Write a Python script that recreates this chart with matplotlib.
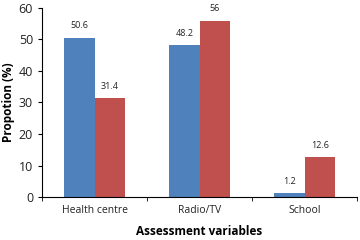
import numpy as np
import matplotlib.pyplot as plt

categories = ['Health centre', 'Radio/TV', 'School']
series_a = [50.6, 48.2, 1.2]
series_b = [31.4, 56, 12.6]

plt.rcParams['font.family'] = ['Open Sans', 'DejaVu Sans']

fig = plt.figure(figsize=(3.6, 2.4), dpi=100)
ax = fig.add_axes([0.117, 0.179, 0.875, 0.788])

x = np.arange(len(categories))
w = 0.29
bars_a = ax.bar(x - w / 2, series_a, w, color='#4F81BD')
bars_b = ax.bar(x + w / 2, series_b, w, color='#C0504D')

for bars, vals in ((bars_a, series_a), (bars_b, series_b)):
    for b, v in zip(bars, vals):
        ax.text(b.get_x() + b.get_width() / 2, v + 2.3, f'{v:g}',
                ha='center', va='bottom', fontsize=6.5, color='#222222')

ax.set_xlim(-0.5, 2.5)
ax.set_ylim(0, 60)
ax.set_yticks(range(0, 61, 10))
ax.set_xticks(x)
ax.set_xticklabels(categories)
ax.set_xticks([-0.5, 0.5, 1.5, 2.5], minor=True)
ax.tick_params(axis='x', which='major', length=0, labelsize=7.5, pad=6, labelcolor='#222222')
ax.tick_params(axis='x', which='minor', length=3, direction='out')
ax.tick_params(axis='y', labelsize=9, length=3, direction='out', labelcolor='#222222')

ax.spines['top'].set_visible(False)
ax.spines['right'].set_visible(False)

ax.set_xlabel('Assessment variables', fontsize=8.5, fontweight='bold', labelpad=6)
ax.set_ylabel('Propotion (%)', fontsize=8.5, fontweight='bold', labelpad=3)

fig.savefig('out.png', dpi=100)
